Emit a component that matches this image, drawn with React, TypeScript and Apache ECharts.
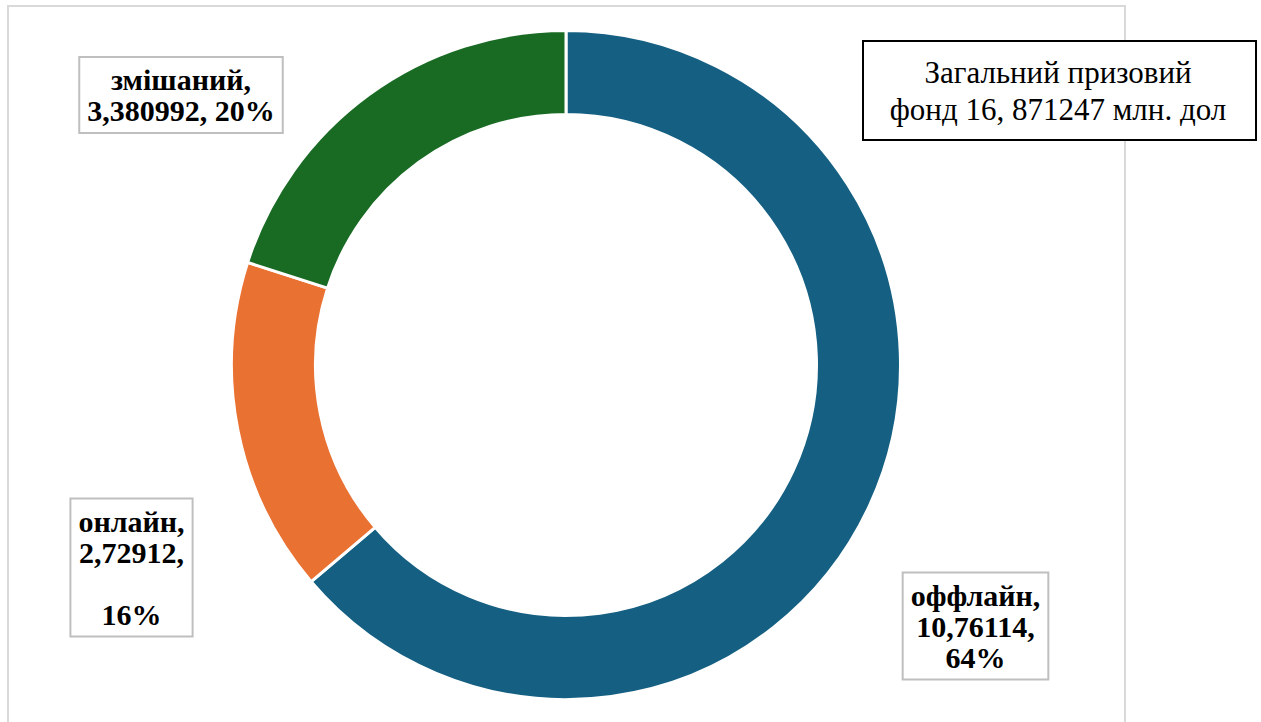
import React, { useEffect, useRef } from "react";
import * as echarts from "echarts";

const categories = ["оффлайн", "онлайн", "змішаний"];
const values = [10.76114, 2.72912, 3.380992];
const colors = ["#156082", "#E97132", "#196B24"];
const titleLines = ["Загальний призовий", "фонд 16, 871247 млн. дол"];

const FONT = '"Liberation Serif", "Times New Roman", serif';

const labelCenters = [
  [975.5, 626],
  [131.5, 567.5],
  [181, 95],
];

function fmt(v: number) {
  return String(v).replace(".", ",");
}

export default function App() {
  const ref = useRef<HTMLDivElement>(null);
  useEffect(() => {
    if (!ref.current) return;
    const chart = echarts.init(ref.current, undefined, { renderer: "svg" });
    const total = values.reduce((a, b) => a + b, 0);
    chart.setOption({
      animation: false,
      backgroundColor: "#fff",
      graphic: [
        {
          type: "rect",
          shape: { x: 8, y: 6, width: 1117, height: 740 },
          style: { fill: "none", stroke: "#d9d9d9", lineWidth: 2 },
          z: -1,
        },
        {
          type: "rect",
          shape: { x: 863, y: 41, width: 393, height: 99 },
          style: { fill: "#fff", stroke: "#000", lineWidth: 2 },
          z: 10,
        },
        {
          type: "text",
          x: 1058,
          y: 91,
          z: 11,
          style: {
            text: titleLines.join("\n"),
            fill: "#000",
            fontFamily: FONT,
            fontSize: 31,
            lineHeight: 37,
            align: "center",
            verticalAlign: "middle",
          },
        },
      ],
      series: [
        {
          type: "pie",
          center: [566, 365],
          radius: [250.5, 334.5],
          startAngle: 90,
          clockwise: true,
          avoidLabelOverlap: false,
          itemStyle: { borderColor: "#fff", borderWidth: 3 },
          label: {
            show: true,
            position: "outside",
            fontFamily: FONT,
            fontSize: 30,
            fontWeight: "bold",
            color: "#000",
            lineHeight: 31,
            align: "center",
            backgroundColor: "#fff",
            borderColor: "#bfbfbf",
            borderWidth: 2,
            padding: [6, 7, 6, 7],
            formatter: (p: any) => {
              const pct = Math.round((p.value / total) * 100);
              const v = fmt(p.value);
              if (p.dataIndex === 0) return `${p.name},\n${v},\n${pct}%`;
              if (p.dataIndex === 1) return `${p.name},\n${v},\n\n${pct}%`;
              return `${p.name},\n${v}, ${pct}%`;
            },
          },
          labelLine: { show: false },
          labelLayout: (params: any) => {
            const c = labelCenters[params.dataIndex];
            return {
              x: c[0],
              y: c[1],
              align: "center",
              verticalAlign: "middle",
            };
          },
          data: categories.map((name, i) => ({
            name,
            value: values[i],
            itemStyle: { color: colors[i] },
          })),
        },
      ],
    });
    return () => chart.dispose();
  }, []);
  return (
    <div
      ref={ref}
      style={{ position: "absolute", left: 0, top: 0, width: 1261, height: 722 }}
    />
  );
}
